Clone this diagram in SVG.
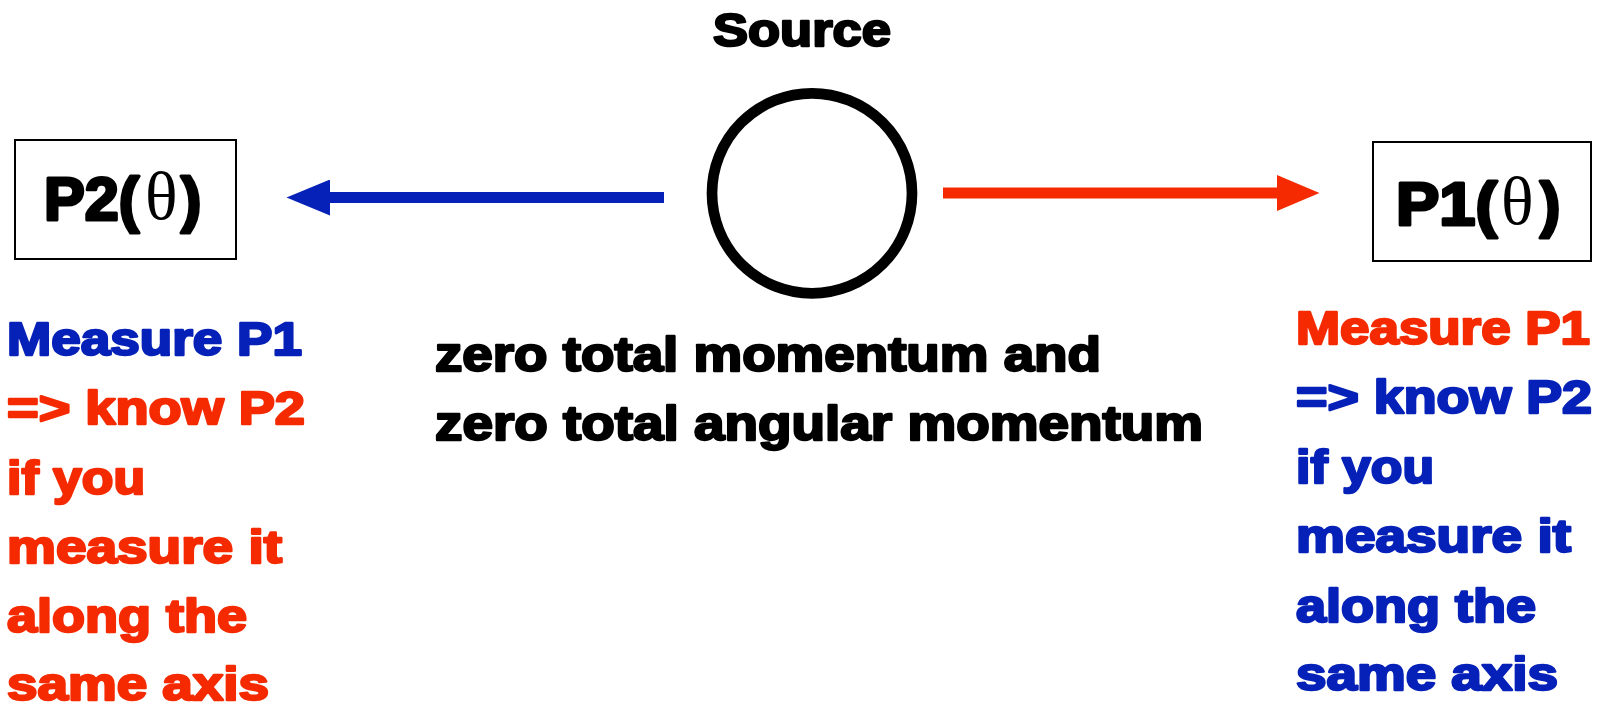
<svg xmlns="http://www.w3.org/2000/svg" width="1601" height="705" viewBox="0 0 1601 705">
<defs>
<style>
.t{font-family:"Liberation Sans",Arial,sans-serif;font-weight:bold;stroke-width:2.4;stroke-linejoin:round}
.big{stroke-width:3.2}
.k{fill:#000;stroke:#000}
.b{fill:#0621B8;stroke:#0621B8}
.r{fill:#F52A00;stroke:#F52A00}
.m{font-size:46px}
.th{font-family:"Liberation Serif","Times New Roman",serif;font-weight:normal;stroke:none;font-size:68px}
.box{fill:#fff;stroke:#000;stroke-width:2}
</style>
<marker id="hb" viewBox="0 0 44 36" markerWidth="44" markerHeight="36" markerUnits="userSpaceOnUse" refX="0" refY="18" orient="auto"><path d="M0,0 L43.5,18 L0,36 Z" fill="#0621B8"/></marker>
<marker id="hr" viewBox="0 0 44 36" markerWidth="44" markerHeight="36" markerUnits="userSpaceOnUse" refX="0" refY="18" orient="auto"><path d="M0,0 L42.5,18 L0,36 Z" fill="#F52A00"/></marker>
</defs>
<rect width="1601" height="705" fill="#fff"/>
<g id="source">
<text class="t k" x="713" y="46" font-size="47" textLength="178" lengthAdjust="spacingAndGlyphs">Source</text>
<circle cx="812" cy="193.3" r="100" fill="none" stroke="#000" stroke-width="10.7"/>
</g>
<g id="p2">
<rect class="box" x="15" y="140" width="221" height="119"/>
<text class="t big k" x="44" y="219.5" font-size="61" textLength="95" lengthAdjust="spacingAndGlyphs">P2(</text>
<text class="th" x="145" y="219" fill="#000">θ</text>
<text class="t big k" x="181" y="219.5" font-size="61">)</text>
</g>
<g id="p1">
<rect class="box" x="1373" y="142" width="218" height="119"/>
<text class="t big k" x="1396" y="224.5" font-size="61" textLength="101" lengthAdjust="spacingAndGlyphs">P1(</text>
<text class="th" x="1501" y="224" fill="#000">θ</text>
<text class="t big k" x="1540" y="224.5" font-size="61">)</text>
</g>
<g id="connectors">
<line x1="664" y1="197.5" x2="330" y2="197.5" stroke="#0621B8" stroke-width="11" marker-end="url(#hb)"/>
<line x1="943" y1="193" x2="1277" y2="193" stroke="#F52A00" stroke-width="11" marker-end="url(#hr)"/>
</g>
<g id="center-text">
<text class="t k" x="435" y="371" font-size="49" textLength="666" lengthAdjust="spacingAndGlyphs">zero total momentum and</text>
<text class="t k" x="435" y="439.5" font-size="49" textLength="768" lengthAdjust="spacingAndGlyphs">zero total angular momentum</text>
</g>
<g id="left-text">
<text class="t b m" x="7" y="354.5" textLength="295" lengthAdjust="spacingAndGlyphs">Measure P1</text>
<text class="t r m" x="7" y="424" textLength="298" lengthAdjust="spacingAndGlyphs">=&gt; know P2</text>
<text class="t r m" x="7" y="493.5" textLength="138" lengthAdjust="spacingAndGlyphs">if you</text>
<text class="t r m" x="7" y="563" textLength="275" lengthAdjust="spacingAndGlyphs">measure it</text>
<text class="t r m" x="7" y="632" textLength="240" lengthAdjust="spacingAndGlyphs">along the</text>
<text class="t r m" x="7" y="700" textLength="262" lengthAdjust="spacingAndGlyphs">same axis</text>
</g>
<g id="right-text">
<text class="t r m" x="1296" y="343.5" textLength="294" lengthAdjust="spacingAndGlyphs">Measure P1</text>
<text class="t b m" x="1296" y="413" textLength="296" lengthAdjust="spacingAndGlyphs">=&gt; know P2</text>
<text class="t b m" x="1296" y="482.5" textLength="138" lengthAdjust="spacingAndGlyphs">if you</text>
<text class="t b m" x="1296" y="551.5" textLength="275" lengthAdjust="spacingAndGlyphs">measure it</text>
<text class="t b m" x="1296" y="621.5" textLength="240" lengthAdjust="spacingAndGlyphs">along the</text>
<text class="t b m" x="1296" y="689.5" textLength="262" lengthAdjust="spacingAndGlyphs">same axis</text>
</g>
</svg>
